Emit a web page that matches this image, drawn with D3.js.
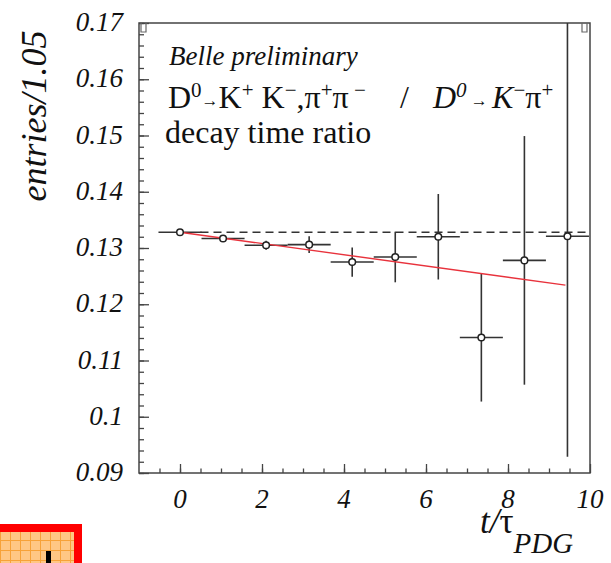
<!DOCTYPE html>
<html>
<head>
<meta charset="utf-8">
<script src="https://cdn.jsdelivr.net/npm/d3@7"></script>
<style>
  body { margin: 0; background: #fff; }
  svg { display: block; }
  svg text, svg tspan { font-family: "Liberation Serif", Tinos, Times, serif !important; }
</style>
</head>
<body>
<div id="chart"></div>
<script>
/* DATA */
const binCenters = [0, 1.05, 2.1, 3.15, 4.2, 5.25, 6.3, 7.35, 8.4, 9.45];
const ratio = [0.1328, 0.1317, 0.1305, 0.1306, 0.1275, 0.1284, 0.1320, 0.1141, 0.1278, 0.1321];
const ratioErr = [0.0002, 0.0003, 0.0008, 0.0015, 0.0026, 0.0045, 0.0076, 0.0114, 0.0221, 0.0392];
const binHalfWidth = 0.525;
const fitT = [0, 9.4];
const fitValue = [0.1328, 0.1234];
const refLevel = 0.1328;
const xTicks = [0, 2, 4, 6, 8, 10];
const yTicks = [0.09, 0.1, 0.11, 0.12, 0.13, 0.14, 0.15, 0.16, 0.17];

/* CONSTANTS */
const width = 611,
  height = 563,
  frame = { left: 139, right: 590, top: 23, bottom: 473 },
  serif = '"Liberation Serif"';

const svg = d3.select("#chart")
  .append("svg")
  .attr("width", width)
  .attr("height", height);

const xScale = d3.scaleLinear().domain([-1, 10]).range([frame.left, frame.right]);
const yScale = d3.scaleLinear().domain([0.09, 0.17]).range([frame.bottom, frame.top]);

// clip so the big error bar stops at the frame
svg.append("defs").append("clipPath").attr("id", "plot-clip")
  .append("rect")
  .attr("x", frame.left).attr("y", frame.top)
  .attr("width", frame.right - frame.left)
  .attr("height", frame.bottom - frame.top);

// + FRAME
svg.append("rect")
  .attr("x", frame.left).attr("y", frame.top)
  .attr("width", frame.right - frame.left)
  .attr("height", frame.bottom - frame.top)
  .attr("fill", "none")
  .attr("stroke", "#444")
  .attr("stroke-width", 1.5);

// + AXES (ticks drawn inward like ROOT)
svg.append("g").attr("class", "y-minor")
  .attr("transform", `translate(${frame.left},0)`)
  .call(d3.axisRight(yScale).tickValues(d3.range(0.09, 0.1701, 0.002)).tickSize(5).tickFormat(""))
  .call(g => g.select(".domain").remove());
svg.append("g").attr("class", "y-major")
  .attr("transform", `translate(${frame.left},0)`)
  .call(d3.axisRight(yScale).tickValues(yTicks).tickSize(10).tickFormat(""))
  .call(g => g.select(".domain").remove());

svg.append("g").attr("class", "x-minor")
  .attr("transform", `translate(0,${frame.bottom})`)
  .call(d3.axisTop(xScale).tickValues(d3.range(-0.5, 10, 0.5)).tickSize(4.5).tickFormat(""))
  .call(g => g.select(".domain").remove());
svg.append("g").attr("class", "x-major")
  .attr("transform", `translate(0,${frame.bottom})`)
  .call(d3.axisTop(xScale).tickValues(xTicks).tickSize(9).tickFormat(""))
  .call(g => g.select(".domain").remove());

svg.selectAll(".tick line").attr("stroke", "#444").attr("stroke-width", 1.3);
// drop the sans-serif defaults the axis generator puts on its groups
svg.selectAll("g").attr("font-family", null).attr("font-size", null);
svg.selectAll(".tick text").remove();

// tick labels
svg.append("g").selectAll("text")
  .data(yTicks)
  .join("text")
  .attr("x", 123)
  .attr("y", d => yScale(d) + 8)
  .attr("text-anchor", "end")
  .attr("font-style", "italic")
  .attr("font-size", 27)
  .text(d => String(+d.toFixed(2)));

svg.append("g").selectAll("text")
  .data(xTicks)
  .join("text")
  .attr("x", d => xScale(d))
  .attr("y", 508)
  .attr("text-anchor", "middle")
  .attr("font-style", "italic")
  .attr("font-size", 27)
  .text(d => d);

// axis titles
svg.append("text")
  .attr("transform", "translate(46,116) rotate(-90)")
  .attr("text-anchor", "middle")
  .attr("font-style", "italic")
  .attr("font-size", 36)
  .text("entries/1.05");

const xt = svg.append("text")
  .attr("x", 480).attr("y", 533)
  .attr("font-size", 35);
xt.append("tspan").attr("font-style", "italic").text("t/");
xt.append("tspan").text("τ");
xt.append("tspan").attr("font-style", "italic").attr("font-size", 29).attr("dy", 20).text("PDG");

// + PLOT CONTENT
const plot = svg.append("g").attr("clip-path", "url(#plot-clip)");

// reference level
plot.append("line")
  .attr("x1", xScale(0.5)).attr("x2", xScale(10))
  .attr("y1", yScale(refLevel)).attr("y2", yScale(refLevel))
  .attr("stroke", "#333").attr("stroke-width", 1.5)
  .attr("stroke-dasharray", "8,5");

const points = binCenters.map((t, i) => ({ t, v: ratio[i], e: ratioErr[i] }));

// error bars
plot.selectAll("line.xerr")
  .data(points)
  .join("line")
  .attr("class", "xerr")
  .attr("x1", d => xScale(d.t - binHalfWidth))
  .attr("x2", d => xScale(d.t + binHalfWidth))
  .attr("y1", d => yScale(d.v)).attr("y2", d => yScale(d.v))
  .attr("stroke", "#333").attr("stroke-width", 1.6);

plot.selectAll("line.yerr")
  .data(points)
  .join("line")
  .attr("class", "yerr")
  .attr("x1", d => xScale(d.t)).attr("x2", d => xScale(d.t))
  .attr("y1", d => yScale(d.v - d.e)).attr("y2", d => yScale(d.v + d.e))
  .attr("stroke", "#333").attr("stroke-width", 1.6);

// fit line
const lineFunc = d3.line()
  .x(d => xScale(d[0]))
  .y(d => yScale(d[1]));
plot.append("path")
  .datum(fitT.map((t, i) => [t, fitValue[i]]))
  .attr("d", lineFunc)
  .attr("fill", "none")
  .attr("stroke", "#e8323c")
  .attr("stroke-width", 1.4);

// markers
plot.selectAll("circle.dot")
  .data(points)
  .join("circle")
  .attr("class", "dot")
  .attr("cx", d => xScale(d.t))
  .attr("cy", d => yScale(d.v))
  .attr("r", 3.3)
  .attr("fill", "#fff")
  .attr("stroke", "#222")
  .attr("stroke-width", 1.5);

// small overflow marks at the top corners
[frame.left + 2, frame.right - 8].forEach(x => {
  svg.append("path")
    .attr("d", `M${x},${frame.top}V${frame.top + 9}H${x + 5}V${frame.top}`)
    .attr("fill", "none").attr("stroke", "#666").attr("stroke-width", 1.2);
});

// + TEXT
svg.append("text")
  .attr("x", 169).attr("y", 65)
  .attr("font-style", "italic")
  .attr("font-size", 27)
  .text("Belle preliminary");

const decay = svg.append("text")
  .attr("x", 168).attr("y", 108)
  .attr("font-size", 32);
decay.append("tspan").text("D");
decay.append("tspan").attr("font-size", 21).attr("dy", -11).text("0");
decay.append("tspan").attr("font-size", 17).attr("dy", 9).text("→");
decay.append("tspan").attr("dy", 2).text("K");
decay.append("tspan").attr("font-size", 21).attr("dy", -11).text("+");
decay.append("tspan").attr("dy", 11).text(" K");
decay.append("tspan").attr("font-size", 21).attr("dy", -11).text("−");
decay.append("tspan").attr("dy", 11).text(",π");
decay.append("tspan").attr("font-size", 21).attr("dy", -11).text("+");
decay.append("tspan").attr("dy", 11).text("π");
decay.append("tspan").attr("font-size", 21).attr("dy", -11).text(" −");
decay.append("tspan").attr("dy", 11).attr("x", 400).text("/");
decay.append("tspan").attr("x", 433).attr("font-style", "italic").text("D");
decay.append("tspan").attr("font-size", 21).attr("font-style", "italic").attr("dy", -11).text("0");
decay.append("tspan").attr("font-size", 17).attr("dy", 9).text(" → ");
decay.append("tspan").attr("dy", 2).attr("font-style", "italic").text("K");
decay.append("tspan").attr("font-size", 21).attr("dy", -11).text("−");
decay.append("tspan").attr("dy", 11).text("π");
decay.append("tspan").attr("font-size", 21).attr("dy", -11).text("+");

svg.append("text")
  .attr("x", 165).attr("y", 143)
  .attr("font-size", 32)
  .text("decay time ratio");

// serif face for every label, set directly on each text element
svg.selectAll("text")
  .attr("font-family", serif)
  .style("font-family", serif)
  .style("fill", "#111");

// + CORNER BADGE (bottom-left)
const pattern = svg.select("defs").append("pattern")
  .attr("id", "grid")
  .attr("width", 10).attr("height", 10)
  .attr("patternUnits", "userSpaceOnUse");
pattern.append("rect").attr("width", 10).attr("height", 10).attr("fill", "#ffc784");
pattern.append("path").attr("d", "M0,0.5H10M0.5,0V10")
  .attr("stroke", "#f7a238").attr("stroke-width", 1);

svg.append("rect")
  .attr("x", 0).attr("y", 524).attr("width", 82).attr("height", 39)
  .attr("fill", "#ff0000");
svg.append("rect")
  .attr("x", 0).attr("y", 532).attr("width", 74).attr("height", 31)
  .attr("fill", "url(#grid)");
svg.append("rect")
  .attr("x", 46).attr("y", 551).attr("width", 5).attr("height", 12)
  .attr("fill", "#000");
</script>
</body>
</html>
